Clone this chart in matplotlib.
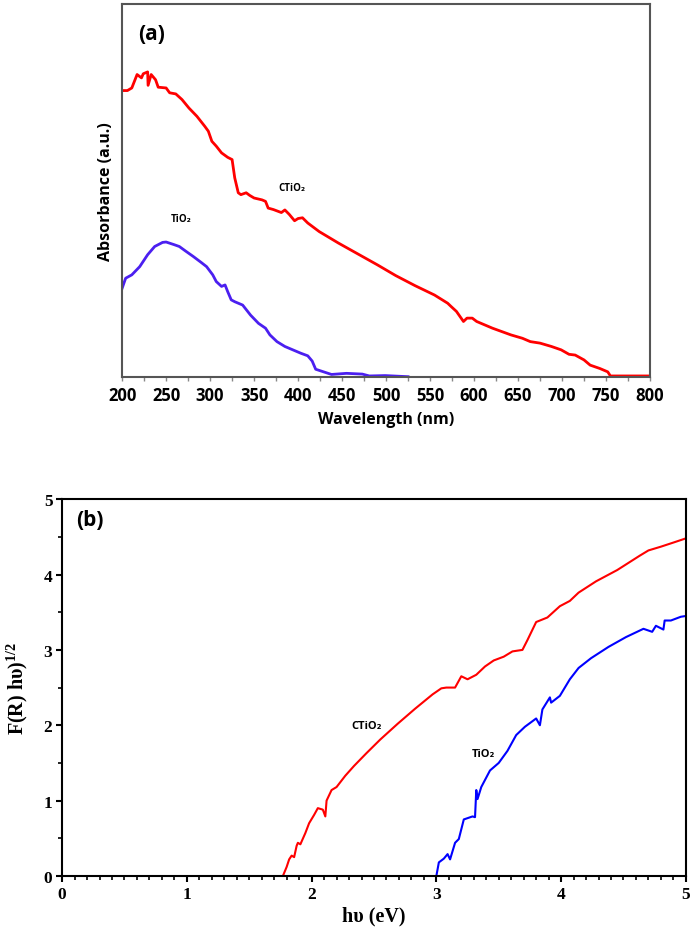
import matplotlib
matplotlib.use("Agg")
import matplotlib.pyplot as plt
from matplotlib.ticker import MultipleLocator
import numpy as np

plt.rcParams['mathtext.fontset'] = 'custom'
plt.rcParams['mathtext.rm'] = 'Liberation Serif:bold'
plt.rcParams['mathtext.bf'] = 'Liberation Serif:bold'

# ---------------- Panel (a) data: wavelength (nm) vs absorbance (a.u.) ----------------
ctio2_wl = [200, 206, 211, 217, 222, 224, 229, 229.5, 233, 238, 241, 250, 254, 261, 268,
            276, 285, 294, 298, 302, 307, 313, 320, 325, 328, 332, 335, 341, 345, 350,
            359, 363, 366, 372, 381, 385, 390, 396, 400, 405, 411, 424, 446, 468, 490,
            511, 533, 555, 570, 574, 580, 588, 592, 598, 603, 621, 642, 655, 664, 675,
            688, 699, 708, 715, 725, 732, 743, 752, 755, 800]
ctio2_abs = [0.767, 0.767, 0.774, 0.810, 0.801, 0.812, 0.817, 0.781, 0.810, 0.796, 0.776, 0.774,
             0.761, 0.758, 0.743, 0.720, 0.698, 0.671, 0.658, 0.631, 0.618, 0.600, 0.588, 0.582,
             0.533, 0.493, 0.488, 0.493, 0.486, 0.479, 0.474, 0.470, 0.452, 0.448, 0.440, 0.447,
             0.435, 0.418, 0.424, 0.426, 0.412, 0.389, 0.358, 0.329, 0.300, 0.271, 0.244, 0.219,
             0.197, 0.188, 0.175, 0.148, 0.157, 0.157, 0.148, 0.130, 0.112, 0.103, 0.094, 0.090,
             0.081, 0.072, 0.060, 0.058, 0.045, 0.031, 0.022, 0.013, 0.002, 0.002]

tio2_wl = [200, 204, 211, 220, 229, 237, 246, 250, 259, 265, 272, 281, 290, 296, 303, 307,
           313, 317, 320, 324, 328, 337, 346, 355, 363, 368, 372, 376, 385, 394, 403, 411,
           416, 420, 429, 438, 455, 473, 481, 499, 525]
tio2_abs = [0.237, 0.264, 0.273, 0.295, 0.327, 0.349, 0.360, 0.361, 0.354, 0.349, 0.337, 0.322,
            0.306, 0.295, 0.273, 0.255, 0.242, 0.246, 0.228, 0.206, 0.201, 0.192, 0.165, 0.143,
            0.130, 0.112, 0.103, 0.094, 0.081, 0.072, 0.063, 0.056, 0.042, 0.020, 0.013, 0.006,
            0.009, 0.007, 0.002, 0.003, 0.000]

# ---------------- Panel (b) data: photon energy (eV) vs F(R)hv^(1/2) ----------------
ctio2_ev = [1.77, 1.80, 1.82, 1.84, 1.86, 1.88, 1.89, 1.91, 1.95, 1.98, 2.02, 2.05, 2.09,
            2.11, 2.12, 2.16, 2.20, 2.27, 2.34, 2.44, 2.55, 2.69, 2.83, 2.97, 3.04, 3.08,
            3.15, 3.20, 3.25, 3.32, 3.39, 3.46, 3.54, 3.61, 3.69, 3.73, 3.80, 3.89, 3.99,
            4.07, 4.14, 4.28, 4.45, 4.63, 4.70, 4.80, 4.91, 5.00]
ctio2_kub = [0.00, 0.12, 0.22, 0.27, 0.25, 0.40, 0.44, 0.42, 0.57, 0.70, 0.81, 0.90, 0.88,
             0.79, 1.00, 1.14, 1.18, 1.33, 1.46, 1.63, 1.81, 2.02, 2.22, 2.41, 2.49, 2.50,
             2.50, 2.65, 2.61, 2.67, 2.78, 2.86, 2.91, 2.98, 3.00, 3.13, 3.37, 3.43, 3.58,
             3.65, 3.76, 3.91, 4.06, 4.25, 4.32, 4.37, 4.43, 4.48]

tio2_ev = [3.00, 3.02, 3.06, 3.09, 3.11, 3.15, 3.18, 3.22, 3.29, 3.31, 3.32, 3.33, 3.36,
           3.43, 3.50, 3.57, 3.64, 3.71, 3.80, 3.83, 3.85, 3.91, 3.92, 3.99, 4.07, 4.14,
           4.24, 4.38, 4.52, 4.66, 4.73, 4.76, 4.82, 4.83, 4.88, 4.96, 5.00]
tio2_kub = [0.00, 0.18, 0.23, 0.29, 0.22, 0.44, 0.49, 0.75, 0.79, 0.78, 1.14, 1.02, 1.18,
            1.40, 1.50, 1.66, 1.87, 1.98, 2.09, 2.00, 2.21, 2.37, 2.30, 2.39, 2.61, 2.76,
            2.89, 3.04, 3.17, 3.28, 3.24, 3.32, 3.27, 3.39, 3.39, 3.44, 3.45]

fig = plt.figure(figsize=(6.9, 9.28), dpi=100)

# ---------------- Panel (a) ----------------
sans = ['Open Sans', 'DejaVu Sans']
axa = fig.add_axes([0.177, 0.593, 0.765, 0.402])
axa.plot(ctio2_wl, ctio2_abs, color='#ff0000', lw=2.0)
axa.plot(tio2_wl, tio2_abs, color='#4b1ff0', lw=2.0)
axa.set_xlim(200, 800)
axa.set_ylim(0, 1.0)
axa.set_yticks([])
axa.xaxis.set_major_locator(MultipleLocator(50))
axa.xaxis.set_minor_locator(MultipleLocator(25))
axa.tick_params(axis='x', which='major', direction='out', length=3, width=1, color='#888888', pad=4)
axa.tick_params(axis='x', which='minor', direction='out', length=3, width=1, color='#888888')
for lab in axa.get_xticklabels():
    lab.set_fontfamily(sans)
    lab.set_fontweight('bold')
    lab.set_fontsize(12)
for s in axa.spines.values():
    s.set_color('#555555')
    s.set_linewidth(1.5)
axa.set_xlabel('Wavelength (nm)', fontfamily=sans, fontweight='bold', fontsize=11.5, labelpad=5)
axa.set_ylabel('Absorbance (a.u.)', fontfamily=sans, fontweight='bold', fontsize=11.5, labelpad=6)
axa.text(233, 0.92, '(a)', fontfamily=sans, fontweight='bold', fontsize=15, ha='center', va='center')
axa.text(393, 0.506, 'CTiO\u2082', fontfamily=sans, fontweight='bold', fontsize=7, ha='center', va='center')
axa.text(267, 0.423, 'TiO\u2082', fontfamily=sans, fontweight='bold', fontsize=7, ha='center', va='center')

# ---------------- Panel (b) ----------------
serif = 'Liberation Serif'
axb = fig.add_axes([0.090, 0.055, 0.904, 0.406])
axb.plot(ctio2_ev, ctio2_kub, color='#ff0000', lw=1.5)
axb.plot(tio2_ev, tio2_kub, color='#0000ff', lw=1.5)
axb.set_xlim(0, 5)
axb.set_ylim(0, 5)
axb.xaxis.set_major_locator(MultipleLocator(1))
axb.xaxis.set_minor_locator(MultipleLocator(0.1))
axb.yaxis.set_major_locator(MultipleLocator(1))
axb.yaxis.set_minor_locator(MultipleLocator(0.5))
axb.tick_params(which='major', direction='out', length=4, width=1.5, pad=3)
axb.tick_params(which='minor', direction='out', length=3, width=1.2)
for lab in axb.get_xticklabels() + axb.get_yticklabels():
    lab.set_fontfamily(serif)
    lab.set_fontweight('bold')
    lab.set_fontsize(12.5)
for s in axb.spines.values():
    s.set_linewidth(1.5)
axb.set_xlabel('h\u03c5 (eV)', fontfamily=serif, fontweight='bold', fontsize=14.5, labelpad=3)
axb.set_ylabel('F(R) h\u03c5)$^{1/2}$', fontfamily=serif, fontweight='bold', fontsize=14.5, labelpad=10)
axb.text(0.22, 4.73, '(b)', fontfamily=sans, fontweight='bold', fontsize=15, ha='center', va='center')
axb.text(2.44, 2.0, 'CTiO\u2082', fontfamily=sans, fontweight='bold', fontsize=8, ha='center', va='center')
axb.text(3.38, 1.63, 'TiO\u2082', fontfamily=sans, fontweight='bold', fontsize=8, ha='center', va='center')

fig.savefig('out.png', dpi=100)
